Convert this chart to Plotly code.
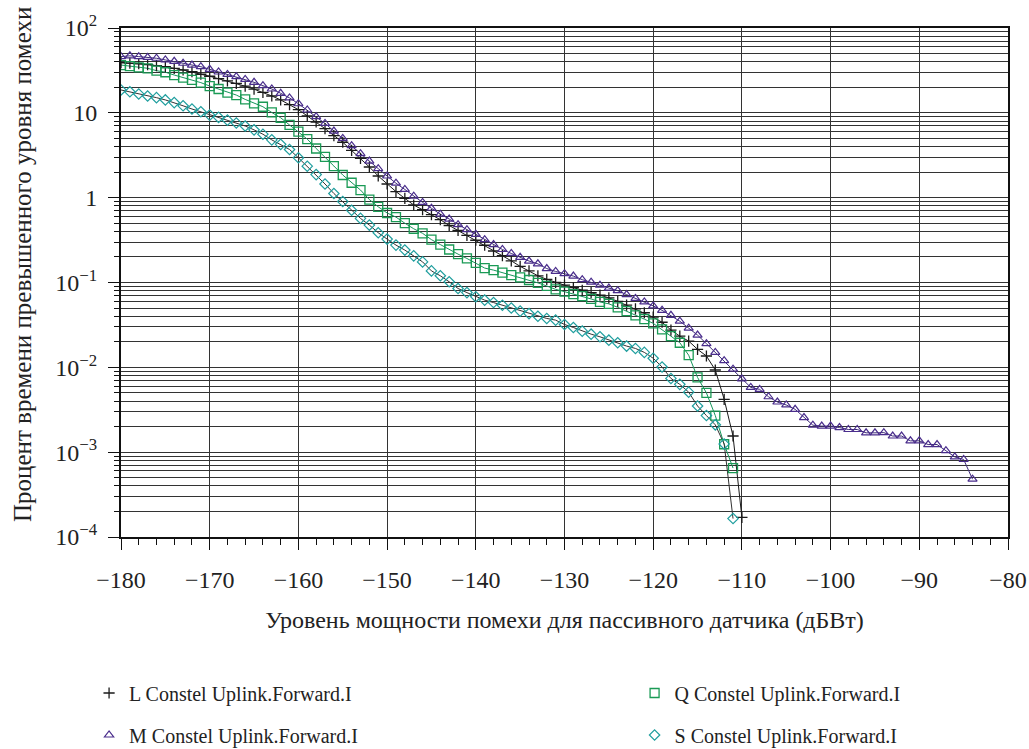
import numpy as np
import plotly.graph_objects as go

# Interference power levels (dBW), 1 dB step
x_L = list(range(-180, -109))
x_M = list(range(-180, -83))
x_Q = list(range(-180, -110))
x_S = list(range(-180, -110))

# Percentage of time the interference level is exceeded
pct_L = [39, 38.5, 38, 37, 36, 35, 33.5, 32, 30.5, 28.5, 27, 25.3, 23.8, 22.2, 20.6, 19, 17.4, 15.8, 14.2, 12.5,
         10.9, 9.2, 7.8, 6.5, 5.4, 4.5, 3.6, 2.9, 2.3, 1.8, 1.45, 1.18, 0.98, 0.82, 0.72, 0.63, 0.55, 0.47, 0.41, 0.36,
         0.315, 0.275, 0.235, 0.207, 0.18, 0.155, 0.137, 0.12, 0.109, 0.100, 0.093, 0.087, 0.081, 0.076, 0.071, 0.066,
         0.060, 0.054, 0.049, 0.044,
         0.039, 0.034, 0.0275, 0.0233, 0.0204, 0.0163, 0.0136, 0.0093, 0.0042, 0.00155, 0.00017]

pct_M = [46, 47, 46, 45, 44, 42, 40.5, 38.4, 36.6, 35, 32.6, 30.3, 28.4, 26.7, 24.8, 22.9, 20.9, 19.1, 17, 15,
         12.8, 10.8, 9.0, 7.5, 6.1, 5.0, 4.1, 3.3, 2.7, 2.2, 1.8, 1.48, 1.25, 1.04, 0.88, 0.75, 0.64, 0.56, 0.48, 0.42,
         0.37, 0.32, 0.28, 0.245, 0.22, 0.198, 0.179, 0.166, 0.146, 0.135, 0.127, 0.119, 0.108, 0.101, 0.093, 0.086,
         0.080, 0.072, 0.065, 0.059,
         0.053, 0.047, 0.041, 0.035, 0.029, 0.024, 0.019, 0.015, 0.012, 0.0095, 0.0073, 0.0058, 0.0055, 0.0045,
         0.0039, 0.0036, 0.0032, 0.00256, 0.00208, 0.00203,
         0.00203, 0.00195, 0.00185, 0.00185, 0.00169, 0.00169, 0.00170, 0.00155, 0.00155, 0.00136, 0.00136,
         0.00123, 0.00123, 0.00104, 0.00088, 0.00082, 0.00048]

pct_Q = [36.6, 35.6, 34.4, 33.5, 31.4, 30.1, 27.9, 26, 24.4, 22.7, 20.7, 19.1, 17.3, 16.2, 14.4, 12.9, 11.8, 10.1, 8.75, 7.2,
         6.0, 4.9, 3.8, 3.03, 2.36, 1.85, 1.5, 1.23, 0.95, 0.78, 0.66, 0.59, 0.50, 0.43, 0.38, 0.32, 0.28, 0.245, 0.216, 0.192,
         0.17, 0.148, 0.14, 0.131, 0.122, 0.115, 0.107, 0.099, 0.091, 0.083, 0.078, 0.073, 0.069, 0.064, 0.059, 0.056,
         0.051, 0.046, 0.041, 0.037,
         0.033, 0.028, 0.0233, 0.0195, 0.0139, 0.0076, 0.0050, 0.0027, 0.00124, 0.00065]

pct_S = [18.6, 17.7, 16.7, 15.8, 15.1, 14.2, 13.2, 12.1, 11.1, 10.3, 9.4, 8.85, 8.2, 7.6, 7.0, 6.3, 5.6, 4.8, 4.25, 3.7,
         2.95, 2.35, 1.87, 1.45, 1.12, 0.90, 0.71, 0.57, 0.475, 0.386, 0.325, 0.276, 0.241, 0.206, 0.175, 0.137, 0.12,
         0.102, 0.085, 0.076,
         0.068, 0.062, 0.058, 0.054, 0.050, 0.046, 0.043, 0.040, 0.0377, 0.036, 0.032, 0.0295, 0.0267, 0.0246, 0.0229,
         0.0209, 0.0195, 0.0178, 0.0167, 0.0150,
         0.0128, 0.0101, 0.0074, 0.0063, 0.0051, 0.0035, 0.0027, 0.0021, 0.00125, 0.000165]

series_names = ["L Constel Uplink.Forward.I", "M Constel Uplink.Forward.I",
                "Q Constel Uplink.Forward.I", "S Constel Uplink.Forward.I"]

y_tickvals = [1e-4, 1e-3, 1e-2, 1e-1, 1, 10, 100]
y_ticktext = ["10<sup>−4</sup>", "10<sup>−3</sup>", "10<sup>−2</sup>", "10<sup>−1</sup>", "1", "10", "10<sup>2</sup>"]

# 2..9 within every decade for the minor grid
y_minor = [m * 10.0 ** e for e in range(-4, 2) for m in range(2, 10)]

FONT = "Liberation Serif"
GRID = "#333333"

styles = [
    dict(line="#1a1a1a", marker=dict(symbol="cross-thin", size=8, color="#1a1a1a",
                                     line=dict(width=1.3, color="#1a1a1a"))),
    dict(line="#3d2a78", marker=dict(symbol="triangle-up-open", size=8, color="#4a2d8c", line=dict(width=1.2))),
    dict(line="#15965a", marker=dict(symbol="square-open", size=9, color="#1a9a55", line=dict(width=1.3))),
    dict(line="#333333", marker=dict(symbol="diamond-open", size=8, color="#1f9e9e", line=dict(width=1.2))),
]
xs = [x_L, x_M, x_Q, x_S]
ys = [pct_L, pct_M, pct_Q, pct_S]
legend_ids = ["legend", "legend2", "legend3", "legend4"]

fig = go.Figure()

# connecting lines (kept out of the legend)
for xv, yv, st in zip(xs, ys, styles):
    fig.add_trace(go.Scatter(x=xv, y=yv, mode="lines", showlegend=False, hoverinfo="skip",
                             line=dict(color=st["line"], width=1)))

# markers, each series with its own legend box
for xv, yv, st, name, lg in zip(xs, ys, styles, series_names, legend_ids):
    fig.add_trace(go.Scatter(x=xv, y=yv, mode="markers", name=name, legend=lg, marker=st["marker"]))

legend_common = dict(font=dict(family=FONT, size=20, color="#222"), bgcolor="rgba(0,0,0,0)",
                     xanchor="left", yanchor="middle", itemwidth=30)

fig.update_layout(
    width=1029, height=749,
    margin=dict(l=121, r=21, t=28, b=212, autoexpand=False),
    paper_bgcolor="white", plot_bgcolor="white",
    font=dict(family=FONT, size=24, color="#222"),
    showlegend=True,
    legend=dict(x=-0.036, y=-0.3065, **legend_common),
    legend2=dict(x=-0.036, y=-0.389, **legend_common),
    legend3=dict(x=0.579, y=-0.3065, **legend_common),
    legend4=dict(x=0.579, y=-0.389, **legend_common),
    xaxis=dict(
        range=[-180, -80], dtick=10, tick0=-180,
        showgrid=True, gridcolor=GRID, gridwidth=1,
        showline=True, linecolor="#111", linewidth=1.5, mirror=True,
        ticks="outside", ticklen=11, tickcolor="#111", tickwidth=1,
        ticklabelstandoff=9,
        minor=dict(dtick=2, ticks="outside", ticklen=6, tickcolor="#111", showgrid=False),
        tickfont=dict(family=FONT, size=24),
        zeroline=False,
        title=dict(text="Уровень мощности помехи для пассивного датчика (дБВт)",
                   font=dict(family=FONT, size=24), standoff=20),
    ),
    xaxis2=dict(
        overlaying="x", matches="x", side="bottom", anchor="y",
        range=[-180, -80], dtick=10, tick0=-180,
        showgrid=False, showline=False, showticklabels=False, zeroline=False,
        ticks="inside", ticklen=10, tickcolor="#111", tickwidth=1,
        minor=dict(dtick=2, ticks="inside", ticklen=6, tickcolor="#111", showgrid=False),
    ),
    yaxis=dict(
        type="log", range=[-4, 2],
        tickmode="array", tickvals=y_tickvals, ticktext=y_ticktext,
        showgrid=True, gridcolor=GRID, gridwidth=1,
        showline=True, linecolor="#111", linewidth=2, mirror=True,
        ticks="outside", ticklen=11, tickcolor="#111", tickwidth=1,
        ticklabelstandoff=6,
        minor=dict(tickmode="array", tickvals=y_minor, ticks="outside", ticklen=5, tickcolor="#111",
                   showgrid=True, gridcolor=GRID, gridwidth=1),
        tickfont=dict(family=FONT, size=24),
        zeroline=False,
    ),
    annotations=[dict(
        text="Процент времени превышенного уровня помехи",
        xref="paper", yref="paper", x=(22 - 121) / 887, y=(537 - 265) / 509,
        xanchor="center", yanchor="middle", textangle=-90, showarrow=False,
        font=dict(family=FONT, size=25, color="#222"),
    )],
)

fig.write_html("out.html")
